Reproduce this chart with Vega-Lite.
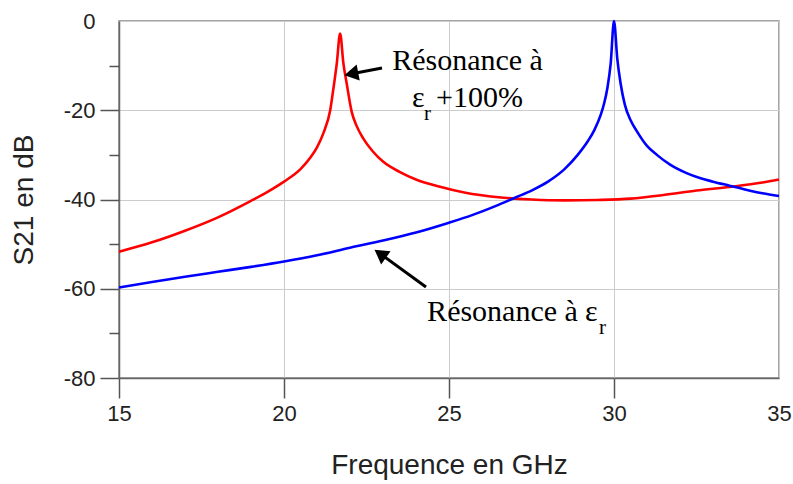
{
  "$schema": "https://vega.github.io/schema/vega-lite/v6.json",
  "width": 660,
  "height": 357,
  "autosize": {"type": "none"},
  "padding": {"left": 119, "top": 21, "right": 14, "bottom": 106},
  "background": "white",
  "config": {
    "view": {"stroke": "#888888", "strokeWidth": 1.5},
    "axis": {
      "labelFont": "Liberation Sans",
      "labelFontSize": 22,
      "labelColor": "#222222",
      "titleFont": "Liberation Sans",
      "titleFontSize": 28,
      "titleFontWeight": "normal",
      "titleColor": "#222222",
      "domainColor": "#666666",
      "domainWidth": 1.5,
      "tickWidth": 1.5,
      "gridColor": "#cccccc",
      "gridWidth": 1
    }
  },
  "datasets": {
    "red": [
      {"f": 15, "s21": -51.7}, {"f": 16, "s21": -49.6}, {"f": 17, "s21": -47.0},
      {"f": 18, "s21": -44.0}, {"f": 19, "s21": -40.3}, {"f": 19.5, "s21": -38.3},
      {"f": 20, "s21": -36.0}, {"f": 20.5, "s21": -33.2}, {"f": 20.8, "s21": -30.6},
      {"f": 21.0, "s21": -28.3}, {"f": 21.2, "s21": -25.0}, {"f": 21.4, "s21": -20.0},
      {"f": 21.5, "s21": -15.0}, {"f": 21.6, "s21": -9.5}, {"f": 21.7, "s21": -2.8},
      {"f": 21.8, "s21": -9.5}, {"f": 21.9, "s21": -14.0}, {"f": 22.05, "s21": -20.3},
      {"f": 22.2, "s21": -23.5}, {"f": 22.4, "s21": -26.3}, {"f": 22.7, "s21": -29.3},
      {"f": 23.0, "s21": -31.5}, {"f": 23.5, "s21": -33.8}, {"f": 24.0, "s21": -35.5},
      {"f": 24.7, "s21": -37.1}, {"f": 25.5, "s21": -38.5}, {"f": 26.5, "s21": -39.5},
      {"f": 27.5, "s21": -40.0}, {"f": 28.5, "s21": -40.2}, {"f": 29.5, "s21": -40.1},
      {"f": 30.5, "s21": -39.8}, {"f": 31.5, "s21": -39.0}, {"f": 32.5, "s21": -38.0},
      {"f": 33.5, "s21": -37.2}, {"f": 34.5, "s21": -36.2}, {"f": 35, "s21": -35.5}
    ],
    "blue": [
      {"f": 15, "s21": -59.7}, {"f": 16, "s21": -58.5}, {"f": 17, "s21": -57.3},
      {"f": 18, "s21": -56.2}, {"f": 19, "s21": -55.1}, {"f": 20, "s21": -53.9},
      {"f": 21, "s21": -52.5}, {"f": 22, "s21": -50.8}, {"f": 23, "s21": -49.2},
      {"f": 24, "s21": -47.4}, {"f": 25, "s21": -45.2}, {"f": 25.7, "s21": -43.5},
      {"f": 26.5, "s21": -41.2}, {"f": 27.0, "s21": -39.6}, {"f": 27.5, "s21": -38.0},
      {"f": 28.0, "s21": -36.0}, {"f": 28.5, "s21": -33.2}, {"f": 28.9, "s21": -30.0},
      {"f": 29.2, "s21": -27.0}, {"f": 29.4, "s21": -24.5}, {"f": 29.6, "s21": -21.0},
      {"f": 29.7, "s21": -18.5}, {"f": 29.8, "s21": -15.0}, {"f": 29.9, "s21": -9.5},
      {"f": 30.0, "s21": 0}, {"f": 30.1, "s21": -8.5},
      {"f": 30.2, "s21": -14.0}, {"f": 30.33, "s21": -18.8},
      {"f": 30.5, "s21": -22.2}, {"f": 30.7, "s21": -24.8}, {"f": 31.0, "s21": -28.0},
      {"f": 31.3, "s21": -30.0}, {"f": 31.7, "s21": -32.2}, {"f": 32.2, "s21": -34.1},
      {"f": 32.6, "s21": -35.2}, {"f": 33.0, "s21": -36.0}, {"f": 33.5, "s21": -36.9},
      {"f": 34.0, "s21": -37.8}, {"f": 34.5, "s21": -38.6}, {"f": 35, "s21": -39.2}
    ],
    "mainText": [
      {"x": 25.561, "y": -10.98, "t": "Résonance à"},
      {"x": 26.621, "y": -67.23, "t": "Résonance à"}
    ],
    "leftText": [
      {"x": 23.879, "y": -19.27, "t": "ε"},
      {"x": 24.606, "y": -19.27, "t": "+100%"},
      {"x": 29.121, "y": -67.23, "t": "ε"}
    ],
    "subText": [
      {"x": 24.242, "y": -22.18, "t": "r"},
      {"x": 29.545, "y": -70.14, "t": "r"}
    ],
    "arrowLines": [
      {"x": 22.970, "y": -10.53, "x2": 22.058, "y2": -11.81},
      {"x": 24.303, "y": -59.61, "x2": 22.930, "y2": -52.24}
    ],
    "head1": [{"x": 22.040, "y": -11.84}],
    "head2": [{"x": 22.915, "y": -52.16}]
  },
  "resolve": {"axis": {"y": "independent"}},
  "layer": [
    {
      "data": {"name": "red"},
      "mark": {"type": "line", "color": "#ff0000", "strokeWidth": 2.6, "interpolate": "monotone"},
      "encoding": {
        "x": {
          "field": "f", "type": "quantitative",
          "scale": {"domain": [15, 35], "nice": false, "zero": false},
          "axis": {
            "values": [15, 20, 25, 30, 35],
            "title": "Frequence en GHz",
            "titlePadding": 27,
            "tickSize": 20,
            "tickColor": {"condition": {"test": "datum.value === 35", "value": "transparent"}, "value": "#555555"},
            "labelPadding": 5,
            "labelFlush": false,
            "labelExpr": "'' + datum.value"
          }
        },
        "y": {
          "field": "s21", "type": "quantitative",
          "scale": {"domain": [-80, 0], "nice": false, "zero": false},
          "axis": {
            "values": [-80, -60, -40, -20, 0],
            "title": "S21 en dB",
            "titlePadding": 25,
            "tickSize": 19,
            "tickColor": {"condition": {"test": "datum.value === 0", "value": "transparent"}, "value": "#555555"},
            "labelPadding": 5,
            "labelFlush": false,
            "labelExpr": "'' + datum.value"
          }
        }
      }
    },
    {
      "data": {"name": "blue"},
      "mark": {"type": "line", "color": "#0000ff", "strokeWidth": 2.6, "interpolate": "monotone"},
      "encoding": {
        "x": {"field": "f", "type": "quantitative"},
        "y": {
          "field": "s21", "type": "quantitative",
          "axis": {
            "orient": "left",
            "values": [-70, -50, -30, -10],
            "labels": false,
            "grid": false,
            "domain": false,
            "title": null,
            "tickSize": 10,
            "tickColor": "#555555"
          }
        }
      }
    },
    {
      "data": {"name": "arrowLines"},
      "mark": {"type": "rule", "color": "black", "strokeWidth": 3},
      "encoding": {
        "x": {"field": "x", "type": "quantitative"},
        "y": {"field": "y", "type": "quantitative", "axis": null},
        "x2": {"field": "x2"},
        "y2": {"field": "y2"}
      }
    },
    {
      "data": {"name": "head1"},
      "mark": {"type": "point", "shape": "triangle-left", "filled": true, "color": "black", "opacity": 1, "size": 260, "angle": 349},
      "encoding": {
        "x": {"field": "x", "type": "quantitative"},
        "y": {"field": "y", "type": "quantitative", "axis": null}
      }
    },
    {
      "data": {"name": "head2"},
      "mark": {"type": "point", "shape": "triangle-left", "filled": true, "color": "black", "opacity": 1, "size": 260, "angle": 36},
      "encoding": {
        "x": {"field": "x", "type": "quantitative"},
        "y": {"field": "y", "type": "quantitative", "axis": null}
      }
    },
    {
      "data": {"name": "mainText"},
      "mark": {"type": "text", "font": "Liberation Serif", "fontSize": 30, "align": "center", "baseline": "alphabetic", "color": "black"},
      "encoding": {
        "x": {"field": "x", "type": "quantitative"},
        "y": {"field": "y", "type": "quantitative", "axis": null},
        "text": {"field": "t"}
      }
    },
    {
      "data": {"name": "leftText"},
      "mark": {"type": "text", "font": "Liberation Serif", "fontSize": 30, "align": "left", "baseline": "alphabetic", "color": "black"},
      "encoding": {
        "x": {"field": "x", "type": "quantitative"},
        "y": {"field": "y", "type": "quantitative", "axis": null},
        "text": {"field": "t"}
      }
    },
    {
      "data": {"name": "subText"},
      "mark": {"type": "text", "font": "Liberation Serif", "fontSize": 21, "align": "left", "baseline": "alphabetic", "color": "black"},
      "encoding": {
        "x": {"field": "x", "type": "quantitative"},
        "y": {"field": "y", "type": "quantitative", "axis": null},
        "text": {"field": "t"}
      }
    }
  ]
}
